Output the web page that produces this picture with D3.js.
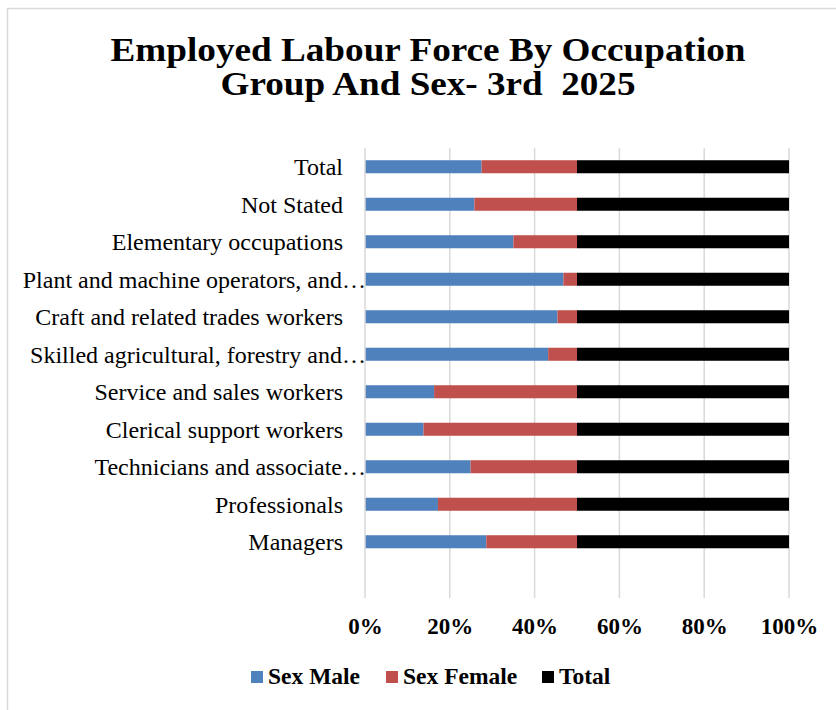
<!DOCTYPE html>
<html>
<head>
<meta charset="utf-8">
<script src="https://cdn.jsdelivr.net/npm/d3@7"></script>
<style>
  body { margin: 0; background: #fff; }
  svg { display: block; }
  text { font-family: "Liberation Serif", "Times New Roman", serif; }
</style>
</head>
<body>
<svg id="chart" width="836" height="710"></svg>
<script>
// categories top to bottom, as they appear on the chart
var categories = [
  "Total",
  "Not Stated",
  "Elementary occupations",
  "Plant and machine operators, and\u2026",
  "Craft and related trades workers",
  "Skilled agricultural, forestry and\u2026",
  "Service and sales workers",
  "Clerical support workers",
  "Technicians and associate\u2026",
  "Professionals",
  "Managers"
];
// share of each group (%)
var sexMale   = [55.0, 51.6, 70.0, 93.6, 90.8, 86.4, 32.6, 27.6, 49.8, 34.4, 57.2];
var sexFemale = [45.0, 48.4, 30.0,  6.4,  9.2, 13.6, 67.4, 72.4, 50.2, 65.6, 42.8];
var total     = [100, 100, 100, 100, 100, 100, 100, 100, 100, 100, 100];
var tickValues = [0, 0.2, 0.4, 0.6, 0.8, 1];
var seriesNames = ["Sex Male", "Sex Female", "Total"];
var seriesColors = ["#4F81BD", "#C0504D", "#000000"];

var svg = d3.select("#chart");

// chart frame
svg.append("rect")
  .attr("x", 7.5).attr("y", 8.5)
  .attr("width", 840).attr("height", 720)
  .attr("fill", "#fff")
  .attr("stroke", "#d9d9d9")
  .attr("stroke-width", 1.5);

// title (the original is drawn a bit wider than the plain font)
var titleLines = ["Employed Labour Force By Occupation", "Group And Sex- 3rd  2025"];
var titleWidths = [635, 415];
svg.append("g")
  .selectAll("text")
  .data(titleLines)
  .enter()
  .append("text")
  .attr("x", 428)
  .attr("y", function(d, i) { return 61 + i * 34; })
  .attr("text-anchor", "middle")
  .attr("font-size", 33)
  .attr("font-weight", "bold")
  .attr("fill", "#000")
  .attr("textLength", function(d, i) { return titleWidths[i]; })
  .attr("lengthAdjust", "spacingAndGlyphs")
  .style("white-space", "pre")
  .text(function(d) { return d; });

var plot = {left: 365, right: 789, top: 148, bottom: 598};
var step = (plot.bottom - plot.top) / 12; // Excel leaves an empty slot below the last row

var data = categories.map(function(c, i) {
  return {category: c, male: sexMale[i], female: sexFemale[i], total: total[i]};
});

var stacked = d3.stack()
  .keys(["male", "female", "total"])
  .offset(d3.stackOffsetExpand)(data);

var x = d3.scaleLinear().domain([0, 1]).range([plot.left, plot.right]);
var y = d3.scaleBand()
  .domain(categories)
  .range([plot.top, plot.top + step * categories.length])
  .paddingInner(0.653)
  .paddingOuter(0.3265);

// gridlines
svg.append("g")
  .selectAll("line")
  .data(tickValues.slice(1))
  .enter()
  .append("line")
  .attr("x1", function(d) { return x(d); })
  .attr("x2", function(d) { return x(d); })
  .attr("y1", plot.top)
  .attr("y2", plot.bottom)
  .attr("stroke", "#d9d9d9")
  .attr("stroke-width", 1.5);

// bars
svg.append("g")
  .selectAll("g")
  .data(stacked)
  .enter()
  .append("g")
  .attr("fill", function(d, i) { return seriesColors[i]; })
  .selectAll("rect")
  .data(function(d) { return d; })
  .enter()
  .append("rect")
  .attr("x", function(d) { return x(d[0]); })
  .attr("y", function(d) { return y(d.data.category); })
  .attr("width", function(d) { return x(d[1]) - x(d[0]); })
  .attr("height", y.bandwidth());

// category axis line
svg.append("line")
  .attr("x1", plot.left).attr("x2", plot.left)
  .attr("y1", plot.top).attr("y2", plot.bottom)
  .attr("stroke", "#d9d9d9")
  .attr("stroke-width", 1.5);

// category labels (the cut ones run up to the axis)
svg.append("g")
  .selectAll("text")
  .data(categories)
  .enter()
  .append("text")
  .attr("x", function(d) { return d.slice(-1) == "\u2026" ? plot.left + 1 : plot.left - 22; })
  .attr("y", function(d) { return y(d) + y.bandwidth() / 2; })
  .attr("dy", "0.35em")
  .attr("text-anchor", "end")
  .attr("font-size", 24)
  .attr("fill", "#000")
  .text(function(d) { return d; });

// value axis labels
var xAxis = d3.axisBottom(x)
  .tickValues(tickValues)
  .tickFormat(d3.format(".0%"))
  .tickSize(0)
  .tickPadding(0);

var gx = svg.append("g")
  .attr("transform", "translate(0," + plot.bottom + ")")
  .call(xAxis);
gx.select(".domain").remove();
gx.selectAll("text")
  .attr("y", 36)
  .attr("dy", 0)
  .attr("font-family", "Liberation Serif, Times New Roman, serif")
  .attr("font-size", 23)
  .attr("font-weight", "bold")
  .attr("fill", "#000");

// legend
var legendX = [251, 386, 542];
var legend = svg.append("g");
legend.selectAll("rect")
  .data(seriesNames)
  .enter()
  .append("rect")
  .attr("x", function(d, i) { return legendX[i]; })
  .attr("y", 671)
  .attr("width", 12)
  .attr("height", 12)
  .attr("fill", function(d, i) { return seriesColors[i]; });
legend.selectAll("text")
  .data(seriesNames)
  .enter()
  .append("text")
  .attr("x", function(d, i) { return legendX[i] + 17; })
  .attr("y", 684)
  .attr("font-size", 23.5)
  .attr("font-weight", "bold")
  .attr("fill", "#000")
  .text(function(d) { return d; });
</script>
</body>
</html>
